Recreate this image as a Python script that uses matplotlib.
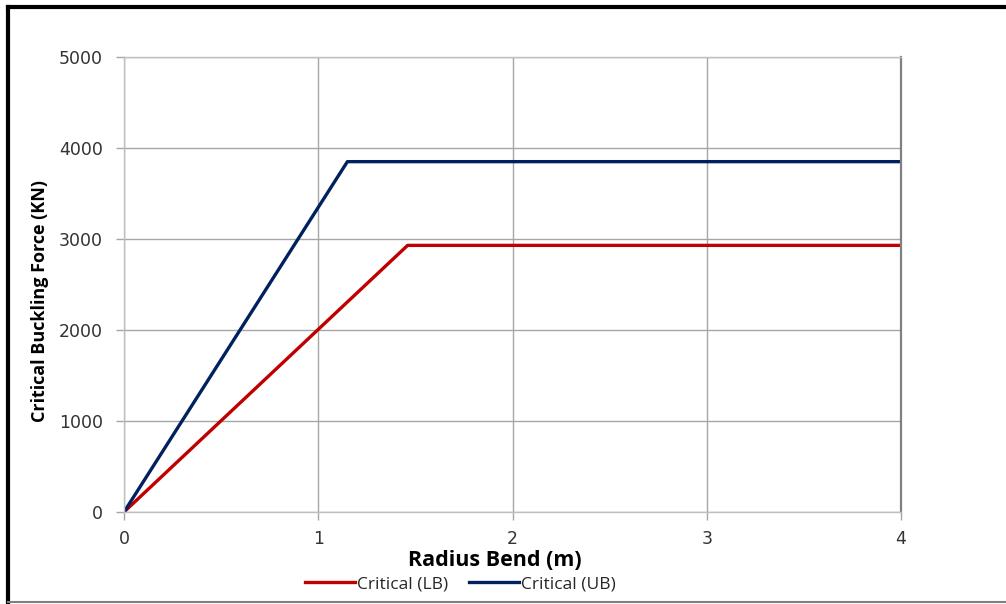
#!/usr/bin/env python
# Critical buckling force vs bend radius

import matplotlib
matplotlib.use('Agg')
import matplotlib.pyplot as plt
from matplotlib.lines import Line2D

# Data
radius_lb = [0.0, 1.46, 4.0]
force_lb = [0.0, 2930.0, 2930.0]
radius_ub = [0.0, 1.15, 4.0]
force_ub = [0.0, 3850.0, 3850.0]

xticks = [0, 1, 2, 3, 4]
yticks = [0, 1000, 2000, 3000, 4000, 5000]

red = '#C00000'
navy = '#002060'

fig = plt.figure(figsize=(10.06, 6.04), dpi=100)
ax = fig.add_axes([124/1006, 1-512/604, 777/1006, 455/604])

ax.plot(radius_lb, force_lb, color=red, lw=2.4, label='Critical (LB)')
ax.plot(radius_ub, force_ub, color=navy, lw=2.4, label='Critical (UB)')

ax.set_xlim(0, 4)
ax.set_ylim(0, 5000)
ax.set_xticks(xticks)
ax.set_yticks(yticks)
ax.grid(True, color='#A6A6A6', lw=1.0)
ax.set_axisbelow(True)

ax.tick_params(axis='both', labelsize=12.5, length=6,
               width=1.0, direction='out', color='#A6A6A6')
ax.tick_params(axis='y', pad=9)
ax.tick_params(axis='x', pad=7)
for lab in ax.get_xticklabels() + ax.get_yticklabels():
    lab.set_family('DejaVu Sans')
    lab.set_color('#333333')

for side in ['left', 'bottom', 'top']:
    ax.spines[side].set_color('#BFBFBF')
    ax.spines[side].set_linewidth(1.0)
ax.spines['right'].set_color('#808080')
ax.spines['right'].set_linewidth(1.6)

# Axis titles
fig.text(495/1006, 1-561/604, 'Radius Bend (m)', ha='center', va='center',
         fontsize=15.5, fontweight='bold', family='Open Sans', color='black')
fig.text(40/1006, 1-301/604, 'Critical Buckling Force (KN)', ha='center',
         va='center', rotation=90, fontsize=13, fontweight='bold',
         family='Open Sans', color='black')

# Legend below x title
handles = [Line2D([], [], color=red, lw=2.4), Line2D([], [], color=navy, lw=2.4)]
leg = fig.legend(handles, ['Critical (LB)', 'Critical (UB)'], loc='center',
                 bbox_to_anchor=(460/1006, 1-584/604), ncol=2, frameon=False,
                 handlelength=2.9, handletextpad=0.1, columnspacing=1.2,
                 prop={'family': 'Open Sans', 'size': 12.5})
for t in leg.get_texts():
    t.set_color('#262626')

# Outer frame
fig.add_artist(Line2D([8/1006, 8/1006], [1-602/604, 1-7/604], color='black',
                      lw=3.0, transform=fig.transFigure))
fig.add_artist(Line2D([8/1006, 1.0], [1-7/604, 1-7/604], color='black',
                      lw=3.0, transform=fig.transFigure))
fig.add_artist(Line2D([8/1006, 1.0], [1-602/604, 1-602/604], color='#808080',
                      lw=1.5, transform=fig.transFigure))

plt.savefig('out.png', dpi=100)
